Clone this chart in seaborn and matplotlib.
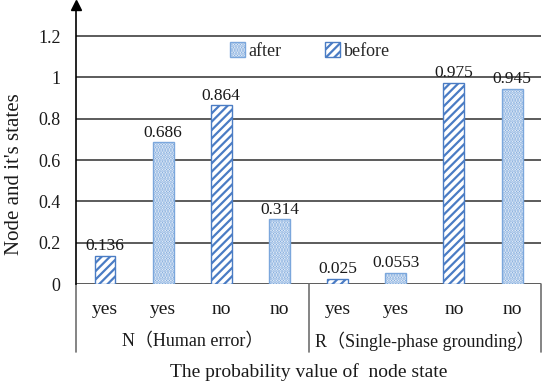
import matplotlib
matplotlib.use("Agg")
import pandas as pd
import seaborn as sns
from matplotlib import pyplot as plt
from matplotlib.patches import Patch

states = ["yes", "yes", "no", "no", "yes", "yes", "no", "no"]
series = ["before", "after", "before", "after", "before", "after", "before", "after"]
values = [0.136, 0.686, 0.864, 0.314, 0.025, 0.0553, 0.975, 0.945]
labels = ["0.136", "0.686", "0.864", "0.314", "0.025", "0.0553", "0.975", "0.945"]
groups = ["N（Human error）", "R（Single-phase grounding）"]
yticks = [0, 0.2, 0.4, 0.6, 0.8, 1.0, 1.2]
ytick_labels = ["0", "0.2", "0.4", "0.6", "0.8", "1", "1.2"]

sns.set_style("white")
plt.rcParams["font.family"] = ["Liberation Serif", "Noto Sans CJK SC"]
plt.rcParams["hatch.linewidth"] = 1.6

blue = "#4a7cc4"
light = "#7ba7dc"
line_col = "#404040"
text_col = "#1a1a1a"

df = pd.DataFrame({"slot": range(len(values)), "value": values, "series": series})

fig = plt.figure(figsize=(5.5, 3.86), dpi=100)
ax = fig.add_axes([0.138, 0.264, 0.846, 0.723])

sns.barplot(data=df, x="slot", y="value", hue="series", hue_order=["after", "before"],
            dodge=False, width=0.36, legend=False, ax=ax, zorder=3)

for container, lvl in zip(ax.containers, ["after", "before"]):
    for bar in container:
        bar.set_facecolor("white")
        if lvl == "after":
            bar.set_hatch("......")
            bar.set_edgecolor(light)
        else:
            bar.set_hatch("////")
            bar.set_edgecolor(blue)
        bar.set_linewidth(1.0)

for i, (v, lab) in enumerate(zip(values, labels)):
    ax.text(i, v + 0.008, lab, ha="center", va="bottom", fontsize=12.5, color=text_col)

ax.set_ylim(0, 1.35)
ax.set_xlim(-0.5, 7.5)
ax.set_yticks(yticks)
ax.set_yticklabels(ytick_labels, fontsize=13, color=text_col)
for y in yticks:
    ax.axhline(y, color=line_col, lw=1.2, zorder=1)
ax.set_xticks(range(len(states)))
ax.set_xticklabels(states, fontsize=14, color=text_col)
ax.tick_params(axis="both", length=0)
ax.tick_params(axis="y", pad=11)
ax.tick_params(axis="x", pad=12)
for s in ["top", "right", "bottom"]:
    ax.spines[s].set_visible(False)
ax.spines["left"].set_color("black")
ax.spines["left"].set_linewidth(1.2)
ax.plot(0, 1, marker="^", color="black", markersize=7, transform=ax.transAxes, clip_on=False)

ax.set_xlabel("The probability value of  node state", fontsize=14, labelpad=33, color=text_col)
ax.set_ylabel("Node and it's states", fontsize=15, color=text_col)
ax.yaxis.set_label_coords(-0.112, 0.394)

# group separators and group labels below the axis
trans = ax.get_xaxis_transform()
for x in [-0.5, 3.5, 7.5]:
    ax.plot([x, x], [0, -0.245], color="#707070", lw=1.2, transform=trans, clip_on=False)
for k, g in enumerate(groups):
    ax.text(1.5 + 4 * k, -0.205, g, ha="center", va="center", fontsize=13,
            transform=trans, clip_on=False, color=text_col)

handles = [Patch(facecolor="white", edgecolor=light, hatch="......", label="after"),
           Patch(facecolor="white", edgecolor=blue, hatch="////", label="before")]
ax.legend(handles=handles, loc="center", bbox_to_anchor=(0.503, 0.835), ncol=2,
          frameon=False, fontsize=13, columnspacing=2.4, handlelength=0.85,
          handleheight=0.85, handletextpad=0.2, borderpad=0)

fig.savefig("out.png", dpi=100)
